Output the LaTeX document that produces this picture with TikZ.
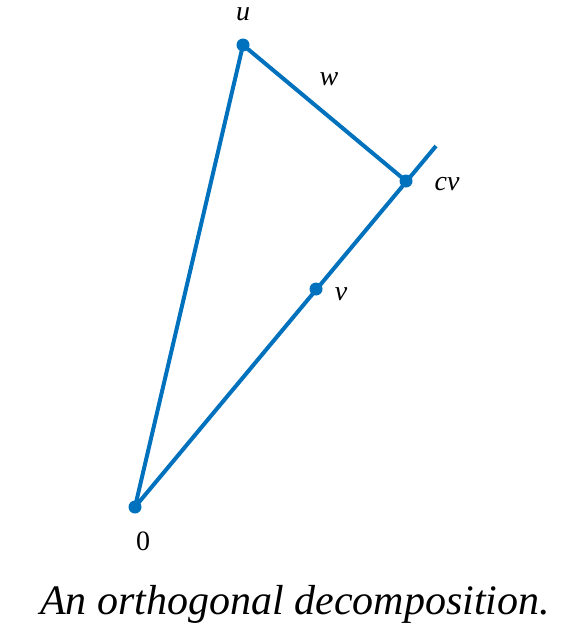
\documentclass[tikz,border=0pt]{standalone}
\usepackage{fontspec}
\setmainfont{Liberation Serif}
\definecolor{lineblue}{RGB}{0,113,188}
\begin{document}
\begin{tikzpicture}[x=1pt,y=-1pt,
  seg/.style={draw=lineblue,line width=4pt},
  dot/.style={circle,fill=lineblue,inner sep=0pt,minimum size=13pt},
  lbl/.style={font=\fontsize{28}{28}\selectfont\itshape,inner sep=0pt},
  captiontext/.style={font=\fontsize{42}{42}\selectfont\itshape,inner sep=0pt}]
\useasboundingbox (0,0) rectangle (578,642);
\coordinate (O) at (135,507);
\coordinate (U) at (243,45);
\coordinate (CV) at (406,181);
\coordinate (V) at (316,289);
\coordinate (E) at (436,146);
\draw[seg] (O) -- (E);
\draw[seg] (O) -- (U);
\draw[seg] (CV) -- (U);
\node[dot] (o) at (O) {};
\node[dot] (u) at (U) {};
\node[dot] (cv) at (CV) {};
\node[dot] (v) at (V) {};
\node[lbl,anchor=base] (lu) at (243,21) {u};
\node[lbl] (lw) at (329,79) {w};
\node[lbl] (lcv) at (447,184) {cv};
\node[lbl] (lv) at (341,294) {v};
\node[lbl,font=\fontsize{28}{28}\selectfont] (l0) at (143,541) {0};
\node[captiontext] (c) at (295,604) {An orthogonal decomposition.};
\end{tikzpicture}
\end{document}
